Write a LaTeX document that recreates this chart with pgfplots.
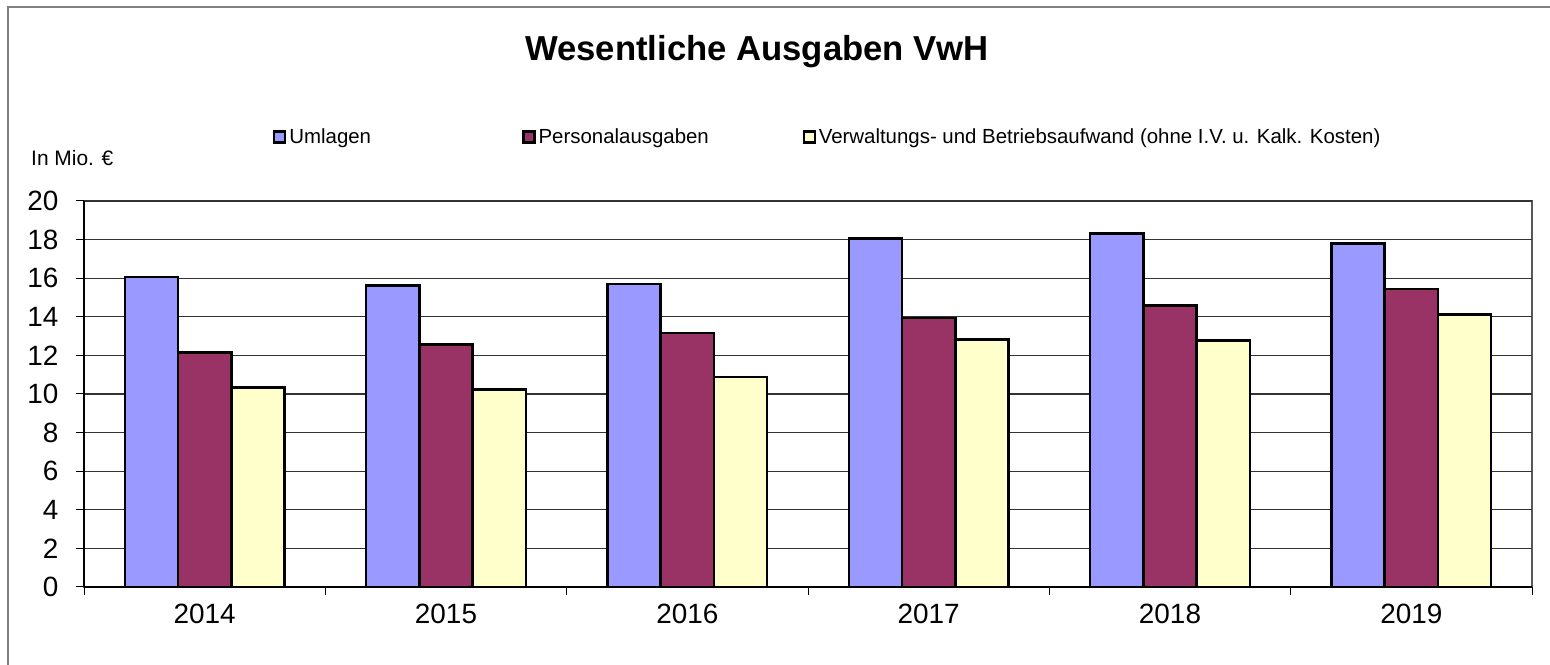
\documentclass[border=0pt]{standalone}
\usepackage{pgfplots}
\pgfplotsset{compat=1.18}
\usepackage{fontspec}
\setmainfont{Liberation Sans}
\definecolor{cU}{HTML}{9999FF}
\definecolor{cP}{HTML}{993366}
\definecolor{cV}{HTML}{FFFFCC}
\pgfplotsset{mylegend/.style={legend image code/.code={\draw[##1, line width=2.2bp] (0bp,-5.5bp) rectangle (11bp,5.5bp);}}}
\begin{document}
\begin{tikzpicture}[x=1bp,y=1bp]
\useasboundingbox (0,0) rectangle (1550,665);
\draw[black!50, line width=1.5bp] (8,-2) -- (8,658) -- (1552,658);
\node[font=\bfseries\fontsize{34.8}{40}\selectfont] at (757,613) {Wesentliche Ausgaben VwH};
\node[anchor=west, font=\fontsize{21}{24}\selectfont, inner sep=0pt] at (31,507) {In Mio. €};
\begin{axis}[at={(84bp,78bp)}, anchor=south west, scale only axis,
  width=1448bp, height=386bp,
  ybar=0pt, bar width=53.3bp,
  xmin=-0.5, xmax=5.5, ymin=0, ymax=20, ytick={0,2,...,20},
  xtick={0,1,2,3,4,5}, xticklabels={2014,2015,2016,2017,2018,2019},
  minor xtick={-0.5,0.5,1.5,2.5,3.5,4.5,5.5},
  major x tick style={draw=none},
  minor x tick style={black, line width=1bp},
  y tick style={black, line width=1bp},
  major tick length=8bp, minor tick length=8bp,
  tick align=outside, tick pos=left,
  ymajorgrids, grid style={line width=1.1bp, black!80},
  axis background/.style={draw=black!65, line width=1.3bp},
  axis x line*=bottom, axis y line*=left,
  axis line style={black, line width=1.8bp},
  every axis plot post/.append style={line width=2.4bp, draw=black},
  tick label style={font=\fontsize{28}{32}\selectfont},
  /pgf/number format/assume math mode=true,
  yticklabel style={xshift=-14bp},
  xticklabel style={yshift=-6bp},
  legend style={at={(0.1305,1.1658)}, anchor=west, draw=none, fill=none,
    inner sep=0pt, font=\fontsize{20.5}{24}\selectfont,
    nodes={inner xsep=3bp, inner ysep=0pt},
    /tikz/every even column/.style={column sep=0pt}},
  legend columns=3, legend cell align=left,
]
\addplot[fill=cU, mylegend] coordinates {(0,16.07) (1,15.62) (2,15.70) (3,18.05) (4,18.31) (5,17.79)};
\addlegendentry{\makebox[230bp][l]{Umlagen}}
\addplot[fill=cP, mylegend] coordinates {(0,12.16) (1,12.56) (2,13.17) (3,13.95) (4,14.59) (5,15.44)};
\addlegendentry{\makebox[261bp][l]{Personalausgaben}}
\addplot[fill=cV, mylegend] coordinates {(0,10.33) (1,10.23) (2,10.87) (3,12.82) (4,12.78) (5,14.12)};
\addlegendentry{Verwaltungs- und Betriebsaufwand (ohne I.V. u. Kalk. Kosten)}
\end{axis}
\end{tikzpicture}
\end{document}
